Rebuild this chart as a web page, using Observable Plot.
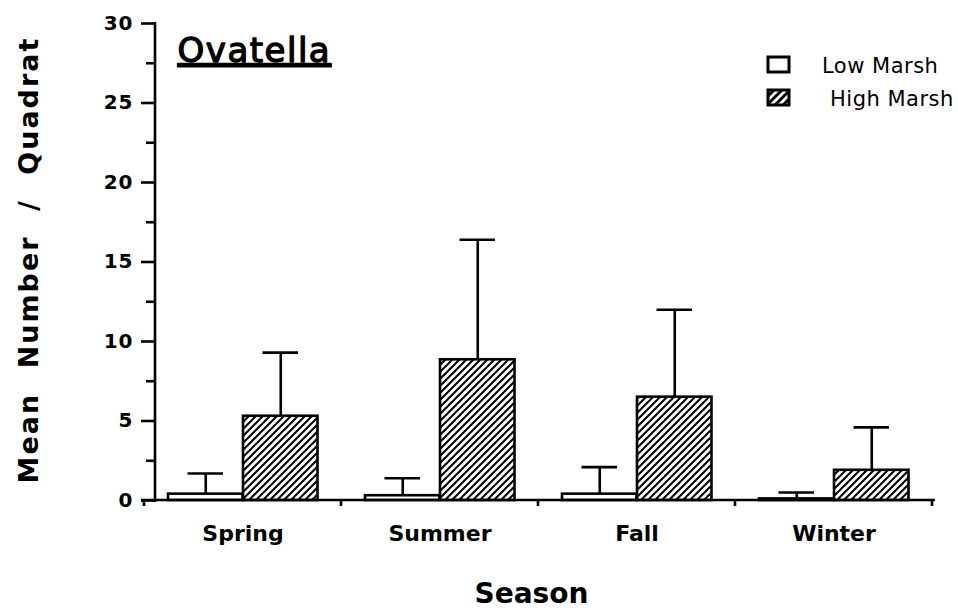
<!DOCTYPE html>
<html>
<head>
<meta charset="utf-8">
<script src="https://cdn.jsdelivr.net/npm/d3@7"></script>
<script src="https://cdn.jsdelivr.net/npm/@observablehq/plot@0.6"></script>
<style>
  html, body { margin: 0; padding: 0; background: #fff; }
  #chart { width: 958px; height: 608px; }
</style>
</head>
<body>
<div id="chart"></div>
<script>
// Ovatella abundance by season, low vs high marsh (mean and upper SE bound)
const seasons = ["Spring", "Summer", "Fall", "Winter"];
const lowMean   = [0.4, 0.3, 0.4, 0.1];
const lowUpper  = [1.7, 1.4, 2.1, 0.5];
const highMean  = [5.3, 8.85, 6.5, 1.9];
const highUpper = [9.3, 16.4, 12.0, 4.6];
const yTicks = [0, 5, 10, 15, 20, 25, 30];
const yMinorTicks = [2.5, 7.5, 12.5, 17.5, 22.5, 27.5];
const legendLabels = ["Low Marsh", "High Marsh"];
const titleText = "Ovatella";
const xLabel = "Season";
const yLabel = "Mean Number / Quadrat";

const low = seasons.map((s, i) => ({season: s, mean: lowMean[i], upper: lowUpper[i]}));
const high = seasons.map((s, i) => ({season: s, mean: highMean[i], upper: highUpper[i]}));

// layout of the two bars inside each season band
const bandStart = 143, bandEnd = 933;
const step = (bandEnd - bandStart) / seasons.length;
const pad = 24, barW = 75, capW = 36;
const lowL = pad, lowR = step - pad - barW;
const highL = pad + barW, highR = step - pad - 2 * barW;
const lowC = pad + barW / 2, highC = pad + 1.5 * barW;

const font = "DejaVu Sans, Liberation Sans, Arial, sans-serif";
const ink = "#000";

// hatch pattern definitions
const defs = () => {
  const d = d3.create("svg:defs");
  const p = d.append("pattern").attr("id", "hatchHM").attr("patternUnits", "userSpaceOnUse")
    .attr("width", 7).attr("height", 7);
  p.append("rect").attr("width", 7).attr("height", 7).attr("fill", "#fff");
  p.append("path").attr("d", "M-1,1 L1,-1 M0,7 L7,0 M6,8 L8,6")
    .attr("stroke", ink).attr("stroke-width", 2);
  const q = d.append("pattern").attr("id", "hatchLegend").attr("patternUnits", "userSpaceOnUse")
    .attr("width", 8).attr("height", 8);
  q.append("rect").attr("width", 8).attr("height", 8).attr("fill", "#fff");
  q.append("path").attr("d", "M-1,1 L1,-1 M0,8 L8,0 M7,9 L9,7")
    .attr("stroke", ink).attr("stroke-width", 3);
  return d.node();
};

// axis lines: y spine, x baseline and the ticks between season bands
const axisLines = (index, scales, values, dims) => {
  const x = scales.x, y = scales.y;
  const bw = x.bandwidth ? x.bandwidth() : scales.scales.x.bandwidth;
  const y0 = y(0), yTop = y(30);
  const g = d3.create("svg:g").attr("stroke", ink).attr("stroke-width", 2.6).attr("fill", "none");
  g.append("line").attr("x1", dims.marginLeft).attr("x2", dims.marginLeft)
    .attr("y1", yTop - 1).attr("y2", y0 + 2);
  const left = x(seasons[0]);
  const right = x(seasons[seasons.length - 1]) + bw;
  g.append("line").attr("x1", left - 3).attr("x2", right + 3).attr("y1", y0).attr("y2", y0);
  const edges = [left, ...seasons.map(s => x(s) + bw)];
  edges.forEach(e => g.append("line").attr("x1", e).attr("x2", e).attr("y1", y0).attr("y2", y0 + 6));
  return g.node();
};

// legend in the upper right
const legend = () => {
  const g = d3.create("svg:g");
  const fills = ["#fff", "url(#hatchLegend)"];
  const textX = [822, 830];
  legendLabels.forEach((lab, i) => {
    const top = 57 + i * 33;
    g.append("rect").attr("x", 768).attr("y", top).attr("width", 21).attr("height", 15)
      .attr("fill", fills[i]).attr("stroke", ink).attr("stroke-width", 3);
    g.append("text").attr("x", textX[i]).attr("y", top + 16).text(lab)
      .attr("text-anchor", "start")
      .attr("font-family", font).attr("font-size", 21).attr("letter-spacing", 0.5).attr("fill", ink);
  });
  return g.node();
};

const chart = Plot.plot({
  width: 958,
  height: 608,
  marginTop: 23,
  marginBottom: 108,
  marginLeft: 155,
  marginRight: 23,
  style: {fontFamily: font, color: ink, background: "#fff"},
  x: {domain: seasons, range: [bandStart, bandEnd], padding: 0, label: null},
  y: {domain: [0, 30], label: null},
  marks: [
    defs,
    // error bars
    Plot.ruleX(low, {x: "season", y1: "mean", y2: "upper", dx: lowC - step / 2, stroke: ink, strokeWidth: 2.6}),
    Plot.ruleX(high, {x: "season", y1: "mean", y2: "upper", dx: highC - step / 2, stroke: ink, strokeWidth: 2.6}),
    Plot.tickY(low, {x: "season", y: "upper", insetLeft: lowC - capW / 2, insetRight: step - lowC - capW / 2, stroke: ink, strokeWidth: 2.6}),
    Plot.tickY(high, {x: "season", y: "upper", insetLeft: highC - capW / 2, insetRight: step - highC - capW / 2, stroke: ink, strokeWidth: 2.6}),
    // bars
    Plot.barY(low, {x: "season", y: "mean", insetLeft: lowL, insetRight: lowR, fill: "#fff", stroke: ink, strokeWidth: 2.6}),
    Plot.barY(high, {x: "season", y: "mean", insetLeft: highL, insetRight: highR, fill: "url(#hatchHM)", stroke: ink, strokeWidth: 2.6}),
    axisLines,
    // y axis ticks and labels
    Plot.axisY({ticks: yTicks, tickSize: 14, tickPadding: 8, strokeWidth: 2.6, fontSize: 20, fontWeight: "bold", fontFamily: font, label: null}),
    Plot.axisY({ticks: yMinorTicks, tickSize: 9, tickFormat: () => "", strokeWidth: 2.6, label: null}),
    // season labels
    Plot.axisX({tickSize: 0, tickPadding: 25, fontSize: 22, fontWeight: "bold", fontFamily: font, label: null}),
    // axis titles and chart title
    Plot.text([xLabel], {frameAnchor: "bottom", dx: -14, dy: 102, lineAnchor: "bottom", fontSize: 28, fontWeight: "bold", fontFamily: font, fill: ink}),
    Plot.text([yLabel], {frameAnchor: "left", rotate: -90, dx: -118, dy: -2, lineAnchor: "bottom", textAnchor: "middle", fontSize: 27, fontWeight: "bold", fontFamily: font, fill: ink}),
    Plot.text([titleText], {frameAnchor: "top-left", dx: 22, dy: 38, lineAnchor: "bottom", textAnchor: "start", fontSize: 34, fontFamily: font, fill: ink, stroke: ink, strokeWidth: 1.3}),
    legend
  ]
});

// typographic touches: spaced axis title and tick labels, underlined chart title
d3.select(chart).selectAll("text").each(function () {
  const t = this.textContent;
  if (t === yLabel) {
    d3.select(this).attr("letter-spacing", 2).attr("word-spacing", 13);
  } else if (t === titleText) {
    d3.select(this).attr("letter-spacing", 1.5).style("text-decoration", "underline");
  } else if (yTicks.map(String).includes(t)) {
    d3.select(this).attr("letter-spacing", 1);
  }
});

document.getElementById("chart").append(chart);
</script>
</body>
</html>
